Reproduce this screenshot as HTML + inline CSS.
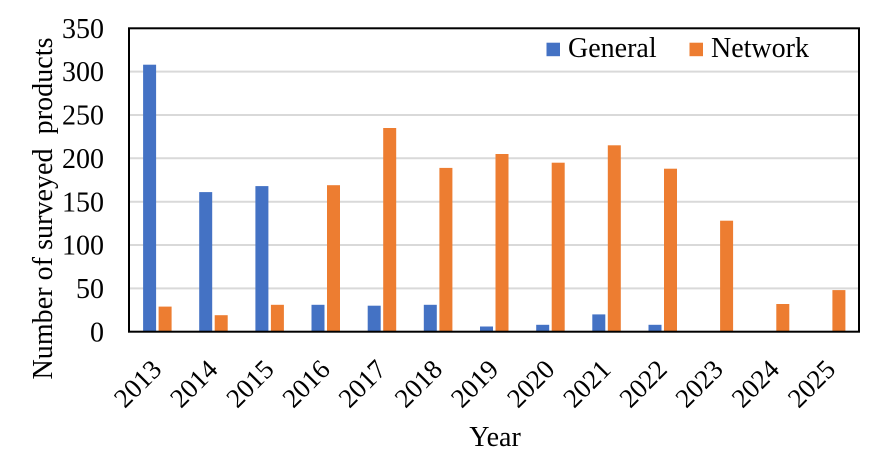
<!DOCTYPE html>
<html>
<head>
<meta charset="utf-8">
<style>
  html, body { margin: 0; padding: 0; background: #ffffff; }
  body { width: 886px; height: 473px; overflow: hidden; }
  svg { display: block; }
  text { font-family: "Liberation Serif", "Times New Roman", serif; fill: #000; }
</style>
</head>
<body>
<svg width="886" height="473" viewBox="0 0 886 473" xmlns="http://www.w3.org/2000/svg">
  <rect x="0" y="0" width="886" height="473" fill="#ffffff"/>

  <!-- gridlines -->
  <g stroke="#d9d9d9" stroke-width="2">
    <line x1="129" y1="288.4" x2="859" y2="288.4"/>
    <line x1="129" y1="245.0" x2="859" y2="245.0"/>
    <line x1="129" y1="201.7" x2="859" y2="201.7"/>
    <line x1="129" y1="158.3" x2="859" y2="158.3"/>
    <line x1="129" y1="115.0" x2="859" y2="115.0"/>
    <line x1="129" y1="71.6" x2="859" y2="71.6"/>
  </g>

  <!-- General bars (blue) -->
  <g fill="#4472C4">
    <rect x="143.1" y="64.7" width="13" height="267.0"/>
    <rect x="199.2" y="192.1" width="13" height="139.6"/>
    <rect x="255.4" y="186.1" width="13" height="145.6"/>
    <rect x="311.5" y="304.8" width="13" height="26.9"/>
    <rect x="367.7" y="305.7" width="13" height="26.0"/>
    <rect x="423.8" y="304.8" width="13" height="26.9"/>
    <rect x="480.0" y="326.5" width="13" height="5.2"/>
    <rect x="536.2" y="324.8" width="13" height="6.9"/>
    <rect x="592.3" y="314.4" width="13" height="17.3"/>
    <rect x="648.5" y="324.8" width="13" height="6.9"/>
  </g>

  <!-- Network bars (orange) -->
  <g fill="#ED7D31">
    <rect x="158.6" y="306.6" width="13" height="25.1"/>
    <rect x="214.7" y="315.2" width="13" height="16.5"/>
    <rect x="270.9" y="304.8" width="13" height="26.9"/>
    <rect x="327.0" y="185.2" width="13" height="146.5"/>
    <rect x="383.2" y="128.0" width="13" height="203.7"/>
    <rect x="439.4" y="167.9" width="13" height="163.8"/>
    <rect x="495.5" y="154.0" width="13" height="177.7"/>
    <rect x="551.7" y="162.7" width="13" height="169.0"/>
    <rect x="607.8" y="145.3" width="13" height="186.4"/>
    <rect x="664.0" y="168.7" width="13" height="163.0"/>
    <rect x="720.1" y="220.7" width="13" height="111.0"/>
    <rect x="776.3" y="304.0" width="13" height="27.7"/>
    <rect x="832.4" y="290.1" width="13" height="41.6"/>
  </g>

  <!-- plot border -->
  <rect x="129" y="28.3" width="730" height="303.4" fill="none" stroke="#000" stroke-width="2"/>

  <!-- Y tick labels -->
  <g font-size="28" text-anchor="end">
    <text x="104" y="341.3">0</text>
    <text x="104" y="298.0">50</text>
    <text x="104" y="254.6">100</text>
    <text x="104" y="211.3">150</text>
    <text x="104" y="167.9">200</text>
    <text x="104" y="124.6">250</text>
    <text x="104" y="81.2">300</text>
    <text x="104" y="37.9">350</text>
  </g>

  <!-- X tick labels -->
  <g font-size="27" text-anchor="end">
    <text transform="translate(163.1,371) rotate(-45)">2013</text>
    <text transform="translate(219.2,371) rotate(-45)">2014</text>
    <text transform="translate(275.4,371) rotate(-45)">2015</text>
    <text transform="translate(331.5,371) rotate(-45)">2016</text>
    <text transform="translate(387.7,371) rotate(-45)">2017</text>
    <text transform="translate(443.8,371) rotate(-45)">2018</text>
    <text transform="translate(500.0,371) rotate(-45)">2019</text>
    <text transform="translate(556.2,371) rotate(-45)">2020</text>
    <text transform="translate(612.3,371) rotate(-45)">2021</text>
    <text transform="translate(668.5,371) rotate(-45)">2022</text>
    <text transform="translate(724.6,371) rotate(-45)">2023</text>
    <text transform="translate(780.8,371) rotate(-45)">2024</text>
    <text transform="translate(836.9,371) rotate(-45)">2025</text>
  </g>

  <!-- Axis titles -->
  <text x="495" y="446" font-size="28" text-anchor="middle">Year</text>
  <text transform="translate(52,208.5) rotate(-90)" font-size="28" text-anchor="middle" textLength="342" lengthAdjust="spacing" xml:space="preserve">Number of surveyed  products</text>

  <!-- Legend -->
  <rect x="546.5" y="42.7" width="13.5" height="13.5" fill="#4472C4"/>
  <text x="568" y="57" font-size="28">General</text>
  <rect x="689.5" y="42.7" width="13.5" height="13.5" fill="#ED7D31"/>
  <text x="711" y="57" font-size="28">Network</text>
</svg>
</body>
</html>
